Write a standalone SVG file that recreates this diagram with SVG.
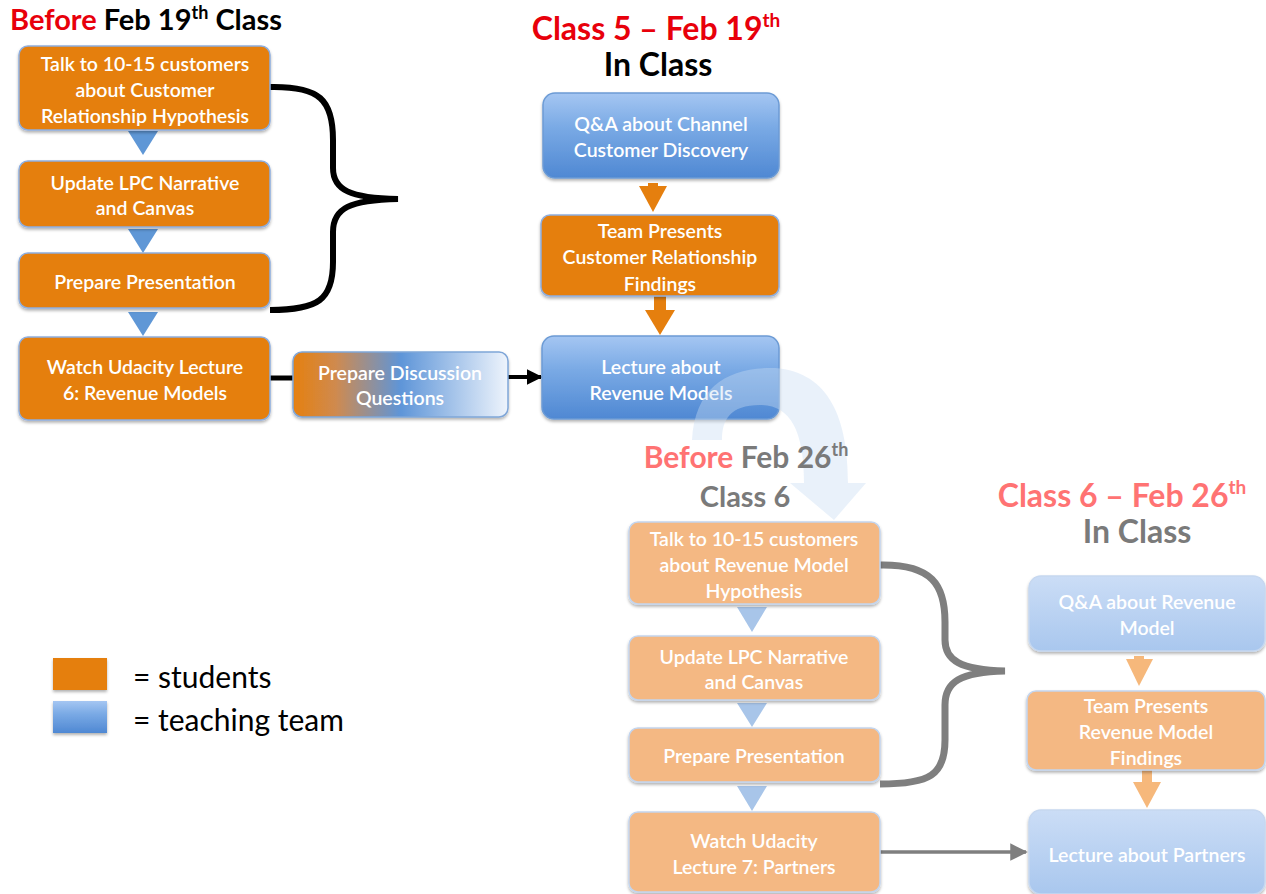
<svg xmlns="http://www.w3.org/2000/svg" width="1266" height="894" viewBox="0 0 1266 894">
<defs>
<style>
text{font-family:Lato,"Open Sans","Liberation Sans",sans-serif}
.bt{fill:#fff;font-size:19.5px;font-weight:600;text-anchor:middle}
.ttl{font-weight:bold;font-size:32px;text-anchor:middle}
.org{fill:#e57f0e;stroke:#8eaede;stroke-width:1.5}
.blu{fill:url(#gb);stroke:#6c9bd5;stroke-width:1.5}
.lorg{fill:#f4b883;stroke:#c3d5ee;stroke-width:1.5}
.lblu{fill:url(#glb);stroke:#c6d8f0;stroke-width:1.5}
.sh{filter:url(#ds)}
.leg{font-size:30px;fill:#000}
</style>
<linearGradient id="gb" x1="0" y1="0" x2="0" y2="1">
<stop offset="0" stop-color="#a5c6f2"/><stop offset="0.4" stop-color="#7aaae5"/><stop offset="1" stop-color="#4f88d3"/>
</linearGradient>
<linearGradient id="glb" x1="0" y1="0" x2="0" y2="1">
<stop offset="0" stop-color="#cbddf6"/><stop offset="1" stop-color="#a9c7ee"/>
</linearGradient>
<linearGradient id="gmix" x1="0" y1="0" x2="1" y2="0">
<stop offset="0" stop-color="#e5800f"/><stop offset="0.2" stop-color="#cf8a4f"/><stop offset="0.5" stop-color="#5e95d8"/><stop offset="1" stop-color="#eef4fc"/>
</linearGradient>
<filter id="ds" x="-10%" y="-10%" width="120%" height="130%">
<feDropShadow dx="0" dy="2" stdDeviation="1.5" flood-color="#000" flood-opacity="0.3"/>
</filter>
<marker id="ahb" viewBox="0 0 10 10" refX="9" refY="5" markerWidth="4" markerHeight="4" orient="auto" markerUnits="strokeWidth">
<path d="M0,0 L10,5 L0,10 Z" fill="#000"/>
</marker>
<marker id="ahg" viewBox="0 0 10 10" refX="9" refY="5" markerWidth="5" markerHeight="5" orient="auto" markerUnits="strokeWidth">
<path d="M0,0 L10,5 L0,10 Z" fill="#7f7f7f"/>
</marker>
</defs>
<rect width="1266" height="894" fill="#fff"/>

<!-- Connectors -->
<g id="connectors">
<path d="M270,87 C320,86 333,100 333,140 L333,168 C333,190 350,198 398,199 C350,200 333,208 333,232 L333,262 C333,300 318,310 270,310" fill="none" stroke="#000" stroke-width="6"/>
<polygon points="128,131 158,131 143,155" fill="#5f97d6"/>
<polygon points="128,229 158,229 143,253" fill="#5f97d6"/>
<polygon points="128,312 158,312 143,336" fill="#5f97d6"/>
<line x1="270" y1="378" x2="294" y2="378" stroke="#000" stroke-width="5"/>
<line x1="508" y1="377" x2="541" y2="377" stroke="#000" stroke-width="4" marker-end="url(#ahb)"/>
<rect x="648" y="183" width="10" height="5" fill="#e57f0e"/>
<polygon points="639,186 667,186 653,212" fill="#e57f0e"/>
<rect x="654" y="296" width="12" height="16" fill="#e57f0e"/>
<polygon points="645,310 675,310 660,335" fill="#e57f0e"/>

<path d="M880,565 C932,564 945,585 945,622 L945,640 C945,660 960,670 1005,671 C960,672 945,682 945,705 L945,740 C945,775 930,784 880,784" fill="none" stroke="#7f7f7f" stroke-width="7"/>
<polygon points="737,607 767,607 752,632" fill="#a8c5e9"/>
<polygon points="737,703 767,703 752,727" fill="#a8c5e9"/>
<polygon points="737,786 767,786 752,811" fill="#a8c5e9"/>
<line x1="880" y1="852" x2="1026" y2="852" stroke="#7f7f7f" stroke-width="3.5" marker-end="url(#ahg)"/>
<rect x="1134" y="656" width="10" height="5" fill="#f6b87b"/>
<polygon points="1126,659 1153,659 1139,686" fill="#f6b87b"/>
<rect x="1142" y="770" width="10" height="14" fill="#f6b87b"/>
<polygon points="1133,782 1161,782 1147,808" fill="#f6b87b"/>
</g>

<!-- Left column nodes (before Feb 19) -->
<g id="n-talk1"><rect class="org sh" x="19" y="46" width="251" height="84" rx="9"/>
<text class="bt" x="145" y="71">Talk to 10-15 customers</text><text class="bt" x="145" y="97">about Customer</text><text class="bt" x="145" y="123">Relationship Hypothesis</text></g>
<g id="n-update1"><rect class="org sh" x="19" y="161" width="251" height="66" rx="9"/>
<text class="bt" x="145" y="190">Update LPC  Narrative</text><text class="bt" x="145" y="215">and Canvas</text></g>
<g id="n-prep1"><rect class="org sh" x="19" y="253" width="251" height="55" rx="9"/>
<text class="bt" x="145" y="289">Prepare Presentation</text></g>
<g id="n-watch1"><rect class="org sh" x="19" y="337" width="251" height="83" rx="9"/>
<text class="bt" x="145" y="374">Watch Udacity Lecture</text><text class="bt" x="145" y="400">6: Revenue Models</text></g>
<g id="n-discuss"><rect class="sh" x="293" y="352" width="215" height="65" rx="9" fill="url(#gmix)" stroke="#7fa6d8" stroke-width="1.5"/>
<text class="bt" x="400" y="380">Prepare Discussion</text><text class="bt" x="400" y="405">Questions</text></g>

<!-- Middle column nodes (class 5) -->
<g id="n-qa1"><rect class="blu sh" x="543" y="93" width="236" height="85" rx="12"/>
<text class="bt" x="661" y="131">Q&amp;A about Channel</text><text class="bt" x="661" y="157">Customer Discovery</text></g>
<g id="n-team1"><rect class="org sh" x="541" y="215" width="238" height="81" rx="9"/>
<text class="bt" x="660" y="238">Team Presents</text><text class="bt" x="660" y="264">Customer Relationship</text><text class="bt" x="660" y="291">Findings</text></g>
<g id="n-lecture1"><rect class="blu sh" x="542" y="336" width="237" height="83" rx="12"/>
<text class="bt" x="661" y="374">Lecture about</text><text class="bt" x="661" y="400">Revenue Models</text></g>

<!-- faded curved arrow -->
<g id="curved-arrow">
<path d="M692,440 C695,385 730,367 775,368 C830,372 848,420 848,483 L866,483 L834,520 L790,483 L804,483 C804,430 790,405 760,405 C730,405 722,420 722,440 Z" fill="#c9dbf2" fill-opacity="0.4"/>
</g>

<!-- Titles -->
<g id="title-before19">
<text x="10" y="30" font-weight="bold" font-size="29px"><tspan fill="#e8000b">Before</tspan><tspan fill="#000"> Feb 19</tspan><tspan dy="-11" font-size="18px">th</tspan><tspan dy="11"> Class</tspan></text>
</g>
<g id="title-class5">
<text x="656" y="40" class="ttl" fill="#e8000b">Class 5 – Feb 19<tspan dy="-13" font-size="19px">th</tspan></text>
<text x="658" y="76" class="ttl" fill="#000" font-size="28px">In Class</text>
</g>
<g id="title-before26">
<text x="746" y="468" font-weight="bold" font-size="30px" text-anchor="middle"><tspan fill="#ff7373">Before</tspan><tspan fill="#7a7a7a"> Feb 26</tspan><tspan fill="#7a7a7a" dy="-12" font-size="18px">th</tspan></text>
<text x="745" y="507" font-weight="bold" font-size="29px" text-anchor="middle" fill="#7a7a7a">Class 6</text>
</g>
<g id="title-class6">
<text x="1122" y="507" class="ttl" fill="#ff7373" font-size="33px">Class 6 – Feb 26<tspan dy="-13" font-size="19px">th</tspan></text>
<text x="1137" y="543" class="ttl" fill="#7a7a7a" font-size="28px">In Class</text>
</g>

<!-- Second section nodes (before Feb 26) -->
<g id="n-talk2"><rect class="lorg sh" x="629" y="522" width="251" height="82" rx="9"/>
<text class="bt" x="754" y="546">Talk to 10-15 customers</text><text class="bt" x="754" y="572">about Revenue Model</text><text class="bt" x="754" y="598">Hypothesis</text></g>
<g id="n-update2"><rect class="lorg sh" x="629" y="636" width="251" height="64" rx="9"/>
<text class="bt" x="754" y="664">Update LPC  Narrative</text><text class="bt" x="754" y="689">and Canvas</text></g>
<g id="n-prep2"><rect class="lorg sh" x="629" y="728" width="251" height="54" rx="9"/>
<text class="bt" x="754" y="763">Prepare Presentation</text></g>
<g id="n-watch2"><rect class="lorg sh" x="629" y="812" width="251" height="80" rx="9"/>
<text class="bt" x="754" y="848">Watch Udacity</text><text class="bt" x="754" y="874">Lecture 7: Partners</text></g>

<!-- Right column nodes (class 6) -->
<g id="n-qa2"><rect class="lblu sh" x="1029" y="576" width="236" height="75" rx="12"/>
<text class="bt" x="1147" y="609">Q&amp;A about Revenue</text><text class="bt" x="1147" y="635">Model</text></g>
<g id="n-team2"><rect class="lorg sh" x="1027" y="691" width="238" height="79" rx="9"/>
<text class="bt" x="1146" y="713">Team Presents</text><text class="bt" x="1146" y="739">Revenue Model</text><text class="bt" x="1146" y="765">Findings</text></g>
<g id="n-lecture2"><rect class="lblu sh" x="1029" y="810" width="236" height="84" rx="12"/>
<text class="bt" x="1147" y="862">Lecture about Partners</text></g>

<!-- Legend -->
<g id="legend">
<rect x="53" y="658" width="54" height="32" fill="#e57f0e" class="sh"/>
<rect x="53" y="701" width="54" height="32" fill="url(#gb)" class="sh"/>
<text class="leg" x="133" y="688">= students</text>
<text class="leg" x="133" y="731">= teaching team</text>
</g>
</svg>
